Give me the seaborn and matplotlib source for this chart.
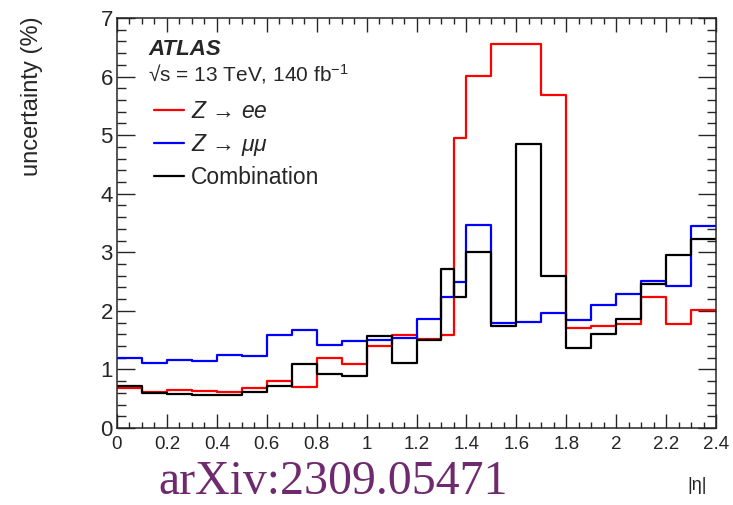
import numpy as np
import pandas as pd
import matplotlib
matplotlib.use("Agg")
import matplotlib.pyplot as plt
from matplotlib.ticker import MultipleLocator, FuncFormatter
import seaborn as sns

# ---- data ----
edges = [0.0, 0.1, 0.2, 0.3, 0.4, 0.5, 0.6, 0.7, 0.8, 0.9, 1.0, 1.1, 1.2, 1.3,
         1.35, 1.4, 1.5, 1.6, 1.7, 1.8, 1.9, 2.0, 2.1, 2.2, 2.3, 2.4]
zee = [0.675, 0.61, 0.65, 0.635, 0.61, 0.68, 0.795, 0.70, 1.20, 1.09, 1.40, 1.58,
       1.52, 1.58, 4.95, 6.01, 6.55, 6.55, 5.68, 1.70, 1.74, 1.78, 2.24, 1.78, 2.02]
zmumu = [1.20, 1.11, 1.16, 1.14, 1.25, 1.23, 1.59, 1.68, 1.42, 1.48, 1.505, 1.54,
         1.86, 2.23, 2.50, 3.46, 1.80, 1.81, 1.97, 1.84, 2.10, 2.29, 2.51, 2.42, 3.45]
comb = [0.71, 0.60, 0.58, 0.56, 0.555, 0.61, 0.72, 1.10, 0.92, 0.89, 1.57, 1.11,
        1.50, 2.71, 2.23, 3.01, 1.74, 4.85, 2.60, 1.37, 1.61, 1.86, 2.46, 2.96, 3.23]
labels = ["$Z$ → $ee$", "$Z$ → $\\mu\\mu$", "Combination"]
colors = ["#ff0000", "#0000ff", "#000000"]

centers = [(a + b) / 2 for a, b in zip(edges[:-1], edges[1:])]
frames = []
for lab, vals in zip(labels, [zee, zmumu, comb]):
    frames.append(pd.DataFrame({"eta": centers, "unc": vals, "channel": lab}))
df = pd.concat(frames, ignore_index=True)

sns.set_style("ticks")
plt.rcParams["font.family"] = ["Liberation Sans", "DejaVu Sans"]
plt.rcParams["mathtext.fontset"] = "custom"
plt.rcParams["mathtext.rm"] = "Liberation Sans"
plt.rcParams["mathtext.it"] = "Liberation Sans:italic"
plt.rcParams["mathtext.bf"] = "Liberation Sans:bold"

fig = plt.figure(figsize=(7.33, 5.05), dpi=100)
ax = fig.add_axes([117 / 733, 77 / 505, 599 / 733, 410 / 505])

for lab, col in zip(labels, colors):
    sub = df[df["channel"] == lab]
    sns.histplot(data=sub, x="eta", weights="unc", bins=edges, element="step",
                 fill=False, color=col, linewidth=1.6, ax=ax, label=lab)

ax.set_xlim(0, 2.4)
ax.set_ylim(0, 7)
ax.xaxis.set_major_locator(MultipleLocator(0.2))
ax.xaxis.set_minor_locator(MultipleLocator(0.05))
ax.yaxis.set_major_locator(MultipleLocator(1))
ax.yaxis.set_minor_locator(MultipleLocator(0.2))
ax.xaxis.set_major_formatter(FuncFormatter(lambda v, p: "%g" % round(v, 2)))
ax.yaxis.set_major_formatter(FuncFormatter(lambda v, p: "%g" % round(v, 2)))

ax.tick_params(which="both", direction="in", top=True, right=True, width=1.0)
ax.tick_params(axis="y", which="major", length=13, labelsize=16, pad=3)
ax.tick_params(axis="y", which="minor", length=6.5)
ax.tick_params(axis="x", which="major", length=10, labelsize=13.5, pad=6)
ax.tick_params(axis="x", which="minor", length=4.5)
for s in ax.spines.values():
    s.set_linewidth(1.1)
    s.set_visible(True)

ax.set_ylabel("uncertainty (%)", fontsize=17, loc="top")
ax.yaxis.set_label_coords(-0.1235, 1.005)
ax.set_xlabel("|η|", fontsize=13, loc="right")
ax.xaxis.set_label_coords(0.985, -0.12)

ax.text(0.0518, 0.9098, "ATLAS", transform=ax.transAxes, fontsize=16,
        fontweight="bold", fontstyle="italic", va="baseline", ha="left")
ax.text(0.0518, 0.846, "√s = 13 TeV, 140 fb$^{-1}$", transform=ax.transAxes,
        fontsize=15, va="baseline", ha="left")

ax.legend(loc="upper left", bbox_to_anchor=(0.0618, 0.80), frameon=False,
          fontsize=16.5, handlelength=1.3, handletextpad=0.3, labelspacing=0.38,
          borderpad=0, borderaxespad=0)

fig.text(158 / 733, 0.002, "arXiv:2309.05471", fontsize=34.5,
         family=["Liberation Serif", "DejaVu Serif"], color="#6f2a6f",
         va="bottom", ha="left")

fig.savefig("out.png", dpi=100)
